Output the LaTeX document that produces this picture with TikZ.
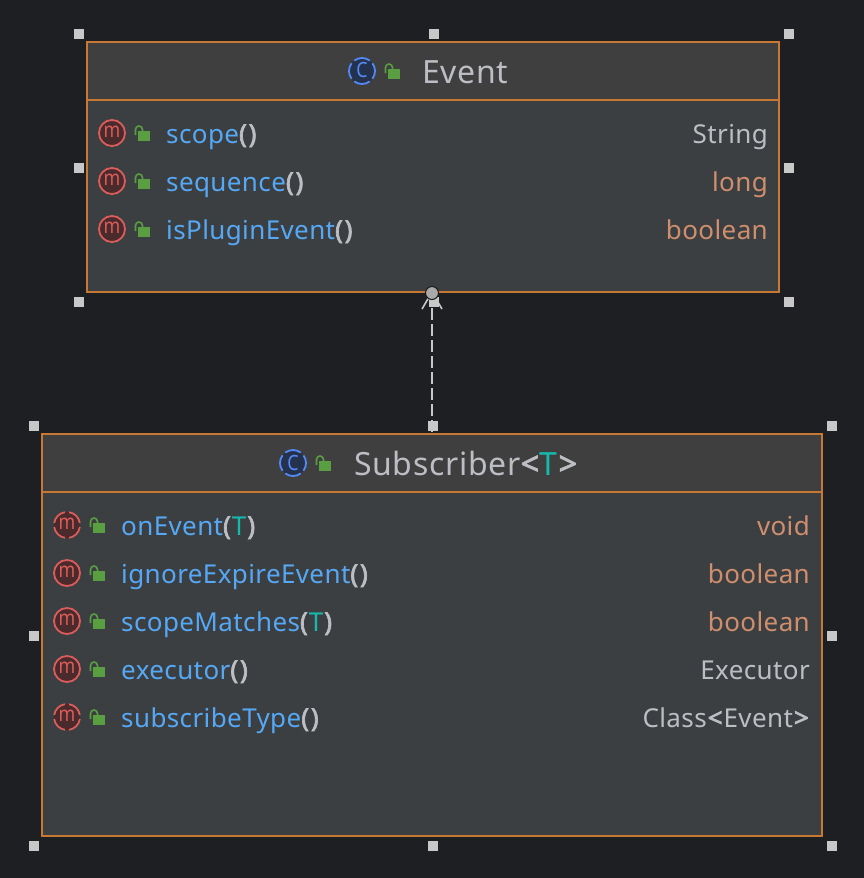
\documentclass[tikz,border=0pt]{standalone}
\usepackage{fontspec}
\setmainfont{Noto Sans}[LetterSpace=1.5]
\newfontfamily\ttlfont{Noto Sans}[LetterSpace=2.2]
\newfontfamily\boldpart{Noto Sans}[FakeBold=2.6,LetterSpace=7]
\newfontfamily\iconfont{Noto Sans}[FakeStretch=0.85]
\usetikzlibrary{arrows.meta}
\definecolor{bg}{HTML}{1E1F22}
\definecolor{body}{HTML}{3C3F41}
\definecolor{head}{HTML}{3F3F3F}
\definecolor{edge}{HTML}{C77832}
\definecolor{nm}{HTML}{56A8F5}
\definecolor{tx}{HTML}{BCBEC4}
\definecolor{kw}{HTML}{CF8E6D}
\definecolor{tp}{HTML}{16BAAC}
\definecolor{mfill}{HTML}{4A2A2A}
\definecolor{mline}{HTML}{DB5C5C}
\definecolor{cfill}{HTML}{25324D}
\definecolor{cline}{HTML}{548AF7}
\definecolor{lockc}{HTML}{599E41}
\definecolor{hnd}{HTML}{C8C8C8}
\newcommand{\pb}[1]{\textcolor{tx}{\boldpart #1}}
\newcommand{\ab}[1]{\textcolor{tx}{\boldpart\kern1pt #1\kern1pt}}
\newcommand{\vT}{\textcolor{tp}{\kern1pt T\kern1pt}}
\tikzset{
  x=1pt,y=-1pt,
  classbox/.style={draw=edge,line width=1.1pt,fill=body,rectangle,inner sep=0pt,outer sep=0pt},
  headbox/.style={draw=edge,line width=1.1pt,fill=head},
  handle/.style={fill=hnd,draw=none,rectangle,minimum size=10pt,inner sep=0pt,outer sep=0pt},
  member/.style={anchor=base west,inner sep=0pt,text=nm,font=\fontsize{26}{30}\selectfont},
  rtype/.style={anchor=base east,inner sep=0pt,font=\fontsize{26}{30}\selectfont},
  ttl/.style={anchor=base west,inner sep=0pt,text=tx,font=\ttlfont\fontsize{32}{36}\selectfont},
  icl/.style={inner sep=0pt,font=\iconfont\fontsize{21}{23}\selectfont},
  lockic/.pic={
    \fill[lockc] (-5.8,-4.8) rectangle (5.8,4.8);
    \draw[lockc,line width=1.6pt] (-8.5,-1) -- (-8.5,-6.5) arc[start angle=180,end angle=360,radius=3.5] -- (-1.5,-4.8);
  },
  mic/.pic={
    \draw[mline,fill=mfill,line width=1.8pt] (0,0) circle[radius=13];
    \node[icl,text=mline] (lbl) at (0,-1) {m};
  },
  mabs/.pic={
    \fill[mfill] (0,0) circle[radius=13];
    \foreach \a in {0,90,180,270}
      \draw[mline,line width=1.8pt] (\a+9:13) arc[start angle=\a+9,end angle=\a+81,radius=13];
    \node[icl,text=mline] (lbl) at (0,-1) {m};
  },
  cabs/.pic={
    \fill[cfill] (0,0) circle[radius=13];
    \foreach \a in {45,135,225,315}
      \draw[cline,line width=1.8pt] (\a+9:13) arc[start angle=\a+9,end angle=\a+81,radius=13];
    \node[icl,text=cline] (lbl) at (0,-0.5) {C};
  },
}
\begin{document}
\begin{tikzpicture}
\useasboundingbox[fill=bg] (0,0) rectangle (864,878);

% Event class
\node[classbox,minimum width=692pt,minimum height=250pt] (event) at (433,167) {};
\draw[headbox] (event.north west) rectangle (779,100);
\pic (ec) at (362,71) {cabs};
\pic at (394,74) {lockic};
\node[ttl] (etitle) at (422,83) {Event};

\foreach \n/\y in {e1/133,e2/181,e3/229}{
  \pic (\n) at (112,\y) {mic};
  \pic at (144,\y+3) {lockic};
}
\node[member] (m1) at (166,143) {scope\pb{()}};
\node[member] (m2) at (166,191) {sequence\pb{()}};
\node[member] (m3) at (166,239) {isPluginEvent\pb{()}};
\node[rtype,text=tx] (r1) at (768,143) {String};
\node[rtype,text=kw] (r2) at (768,191) {long};
\node[rtype,text=kw] (r3) at (768,239) {boolean};

% Subscriber class
\node[classbox,minimum width=780pt,minimum height=402pt] (sub) at (432,635) {};
\draw[headbox] (sub.north west) rectangle (822,492);
\pic (sc) at (293,463) {cabs};
\pic at (325,466) {lockic};
\node[ttl] (stitle) at (354,475) {Subscriber\pb{<}\vT\pb{>}};

\pic (s1) at (67,525) {mabs};
\pic (s2) at (67,573) {mic};
\pic (s3) at (67,621) {mic};
\pic (s4) at (67,669) {mic};
\pic (s5) at (67,717) {mabs};
\foreach \y in {525,573,621,669,717}
  \pic at (99,\y+3) {lockic};
\node[member] (n1) at (121,535) {onEvent\pb{(}\vT\pb{)}};
\node[member] (n2) at (121,583) {ignoreExpireEvent\pb{()}};
\node[member] (n3) at (121,631) {scopeMatches\pb{(}\vT\pb{)}};
\node[member] (n4) at (121,679) {executor\pb{()}};
\node[member] (n5) at (121,727) {subscribeType\pb{()}};
\node[rtype,text=kw] (t1) at (810,535) {void};
\node[rtype,text=kw] (t2) at (810,583) {boolean};
\node[rtype,text=kw] (t3) at (810,631) {boolean};
\node[rtype,text=tx] (t4) at (810,679) {Executor};
\node[rtype,text=tx] (t5) at (810,727) {Class\ab{<}Event\ab{>}};

% dependency connector
\coordinate (dtop) at (sub.north |- event.south);
\coordinate (barbl) at (422,309);
\coordinate (barbr) at (442,309);
\draw[hnd,line width=2.4pt,dash pattern=on 12pt off 4pt] (dtop) -- (sub.north);
\draw[hnd,line width=1.6pt] (barbl) -- (dtop) -- (barbr);

% selection handles
\foreach \n/\x/\y in {a/79/34,b/434/34,c/789/34,d/79/168,e/789/168,f/79/302,g/434/302,h/789/302,
                      i/34/426,j/433/426,k/832/426,l/34/636,m/832/636,o/34/846,p/433/846,q/832/846}
  \node[handle] (h\n) at (\x,\y) {};

\node[circle,fill=hnd!85!black,draw=black!60!body,line width=1pt,minimum size=13pt,inner sep=0pt] (ball) at (432,293) {};
\end{tikzpicture}
\end{document}
